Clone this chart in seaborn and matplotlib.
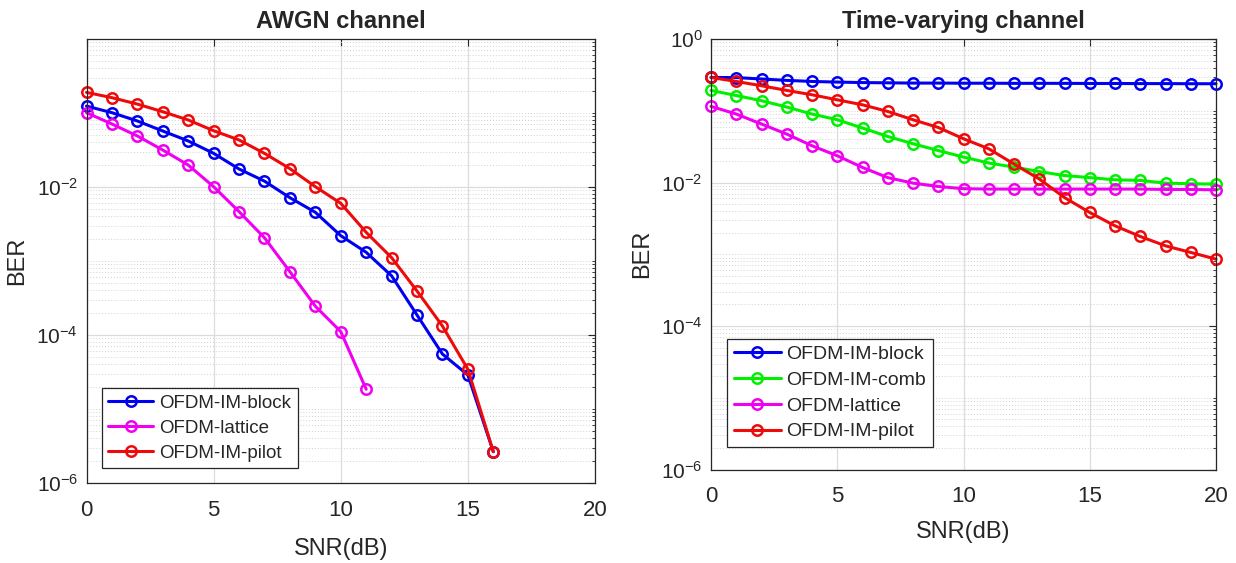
import numpy as np
import matplotlib
matplotlib.use("Agg")
import matplotlib.pyplot as plt
import seaborn as sns
from matplotlib.ticker import FixedLocator, LogLocator, NullFormatter, FuncFormatter

# ---- data ----
snr_awgn = list(range(0, 17))
awgn_block = [0.124, 0.101, 0.078, 0.0571, 0.0419, 0.0285, 0.0175, 0.0120, 0.00717, 0.00455,
              0.0022, 0.00131, 0.00063, 0.000186, 5.53e-5, 2.88e-5, 2.65e-6]
snr_awgn_lattice = list(range(0, 12))
awgn_lattice = [0.101, 0.071, 0.0489, 0.0316, 0.0198, 0.0101, 0.00464, 0.00206, 0.000717,
                0.000245, 0.000111, 1.85e-5]
awgn_pilot = [0.190, 0.161, 0.132, 0.104, 0.0805, 0.0576, 0.0432, 0.0285, 0.0177, 0.0101,
              0.00602, 0.00244, 0.00111, 0.000393, 0.000132, 3.44e-5, 2.65e-6]

snr_tv = list(range(0, 21))
tv_block = [0.291, 0.290, 0.277, 0.265, 0.256, 0.251, 0.247, 0.245, 0.243, 0.243, 0.242,
            0.242, 0.241, 0.241, 0.241, 0.240, 0.240, 0.239, 0.239, 0.238, 0.238]
tv_comb = [0.192, 0.163, 0.138, 0.1126, 0.090, 0.0749, 0.0574, 0.0438, 0.0347, 0.0279, 0.0226,
           0.0187, 0.0164, 0.0142, 0.0125, 0.0117, 0.0109, 0.0107, 0.0098, 0.0096, 0.0095]
tv_lattice = [0.115, 0.090, 0.0653, 0.0473, 0.0325, 0.0236, 0.0162, 0.0117, 0.0098, 0.0088,
              0.0082, 0.0081, 0.0081, 0.0081, 0.0081, 0.0081, 0.0081, 0.0081, 0.0080, 0.0080, 0.0079]
tv_pilot = [0.291, 0.256, 0.223, 0.192, 0.167, 0.142, 0.121, 0.0978, 0.0749, 0.0585, 0.0407,
            0.0295, 0.0181, 0.0112, 0.00617, 0.00382, 0.00249, 0.00177, 0.00131, 0.00106, 0.000855]

BLUE = "#0000f0"
GREEN = "#00f000"
MAGENTA = "#f000f0"
RED = "#ee0a0a"

sns.set_style("white")
plt.rcParams["font.family"] = ["Liberation Sans", "DejaVu Sans"]
plt.rcParams["mathtext.default"] = "regular"


def decade_label(v, pos):
    return r"$10^{%d}$" % int(round(np.log10(v)))


def style_axes(ax, title, show_top_label):
    ax.set_yscale("log")
    ax.set_xlim(0, 20)
    ax.set_ylim(1e-6, 1e0)
    ax.xaxis.set_major_locator(FixedLocator([0, 5, 10, 15, 20]))
    yt = [1e-6, 1e-4, 1e-2, 1e0] if show_top_label else [1e-6, 1e-4, 1e-2]
    ax.yaxis.set_major_locator(FixedLocator(yt))
    ax.yaxis.set_major_formatter(FuncFormatter(decade_label))
    ax.yaxis.set_minor_locator(LogLocator(base=10, subs=np.arange(1, 10), numticks=100))
    ax.yaxis.set_minor_formatter(NullFormatter())
    ax.grid(True, which="major", color="#dcdcdc", linewidth=0.9, linestyle="-")
    ax.grid(True, which="minor", axis="y", color="#d2d2d2", linewidth=0.7, linestyle=(0, (1, 2)))
    ax.set_axisbelow(True)
    ax.tick_params(which="both", direction="in", top=True, right=True, colors="#262626")
    ax.tick_params(which="major", length=5, width=0.8)
    ax.tick_params(which="minor", length=2.5, width=0.6)
    ax.tick_params(axis="x", labelsize=16, pad=12)
    ax.tick_params(axis="y", labelsize=15, pad=6)
    for s in ax.spines.values():
        s.set_color("#262626")
        s.set_linewidth(0.9)
    ax.set_title(title, fontsize=17, fontweight="bold", pad=8)
    ax.set_xlabel("SNR(dB)", fontsize=17)
    ax.set_ylabel("BER", fontsize=17)
    ax.yaxis.set_label_coords(-0.115, 0.5)


def draw(ax, x, y, color, name):
    sns.lineplot(x=x, y=y, ax=ax, color=color, marker="o", markersize=7.5,
                 markerfacecolor="none", markeredgecolor=color, markeredgewidth=1.8,
                 linewidth=2.2, label=name, clip_on=False)


fig = plt.figure(figsize=(12.36, 5.63), dpi=100)
ax1 = fig.add_axes([86.5 / 1236, 1 - 483 / 563, 508.5 / 1236, 444 / 563])
ax2 = fig.add_axes([711 / 1236, 1 - 469.5 / 563, 505 / 1236, 430.5 / 563])

draw(ax1, snr_awgn, awgn_block, BLUE, "OFDM-IM-block")
draw(ax1, snr_awgn_lattice, awgn_lattice, MAGENTA, "OFDM-lattice")
draw(ax1, snr_awgn, awgn_pilot, RED, "OFDM-IM-pilot")
style_axes(ax1, "AWGN channel", False)
ax1.xaxis.set_label_coords(0.5, -0.125)

draw(ax2, snr_tv, tv_block, BLUE, "OFDM-IM-block")
draw(ax2, snr_tv, tv_comb, GREEN, "OFDM-IM-comb")
draw(ax2, snr_tv, tv_lattice, MAGENTA, "OFDM-lattice")
draw(ax2, snr_tv, tv_pilot, RED, "OFDM-IM-pilot")
style_axes(ax2, "Time-varying channel", True)
ax2.xaxis.set_label_coords(0.5, -0.12)

legend_kw = dict(loc="lower left", borderaxespad=0, frameon=True, fancybox=False,
                 edgecolor="#262626", framealpha=1, handlelength=2.4,
                 handletextpad=0.3, labelspacing=0.42, borderpad=0.35)
lg1 = ax1.legend(bbox_to_anchor=(0.03, 0.033), fontsize=13.5, **legend_kw)
lg2 = ax2.legend(bbox_to_anchor=(0.032, 0.052), fontsize=14, **legend_kw)
for lg in (lg1, lg2):
    lg.get_frame().set_linewidth(0.9)

fig.savefig("out.png", dpi=100, facecolor="white")
